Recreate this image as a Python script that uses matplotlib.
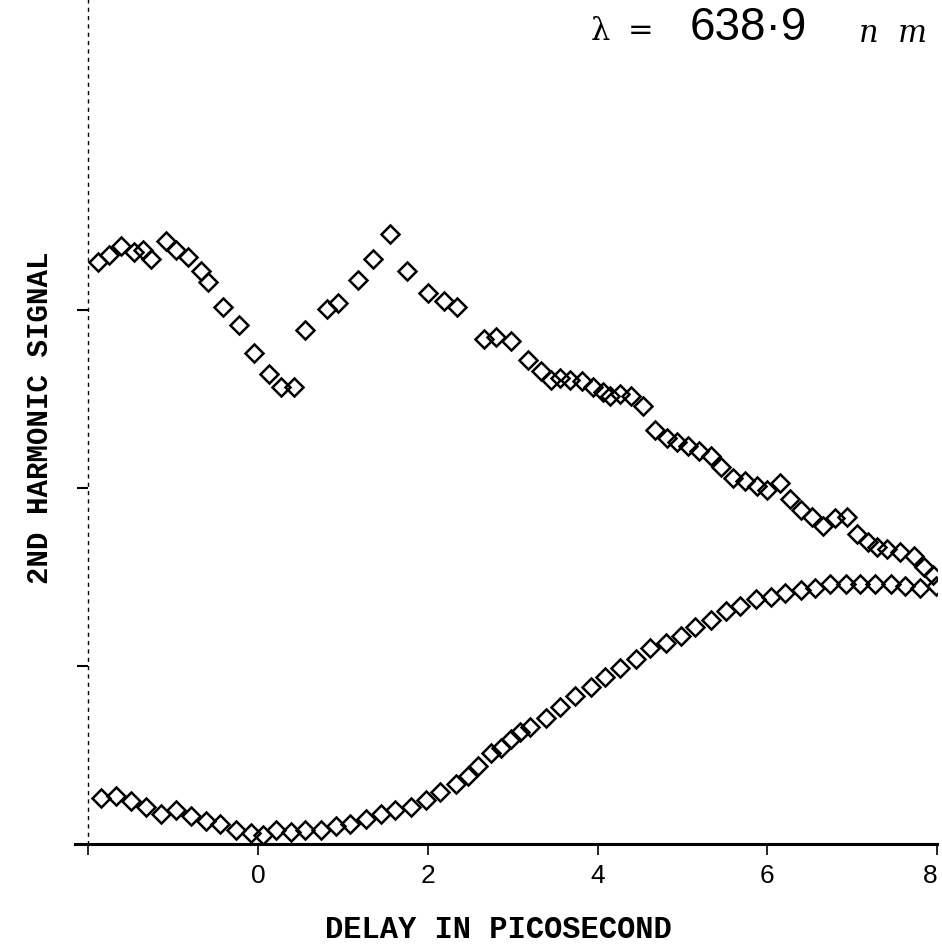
import matplotlib
matplotlib.use("Agg")
import matplotlib.pyplot as plt

# delay (ps) and second-harmonic signal (arb. units)
delay_up = [-1.88, -1.75, -1.61, -1.46, -1.35, -1.26, -1.08, -0.96, -0.82, -0.67,
            -0.59, -0.41, -0.22, -0.05, 0.13, 0.27, 0.42, 0.56, 0.82, 0.94,
            1.18, 1.35, 1.56, 1.76, 2.00, 2.19, 2.35, 2.66, 2.80, 2.98,
            3.18, 3.33, 3.45, 3.56, 3.68, 3.82, 3.95, 4.06, 4.15, 4.27,
            4.39, 4.54, 4.68, 4.82, 4.94, 5.06, 5.19, 5.33, 5.45, 5.60,
            5.74, 5.88, 6.00, 6.15, 6.27, 6.39, 6.53, 6.66, 6.80, 6.94,
            7.06, 7.18, 7.29, 7.41, 7.56, 7.72, 7.84, 7.95]
signal_up = [3.27, 3.31, 3.36, 3.33, 3.34, 3.29, 3.39, 3.34, 3.30, 3.22,
             3.16, 3.02, 2.92, 2.76, 2.64, 2.57, 2.57, 2.89, 3.01, 3.04,
             3.17, 3.29, 3.43, 3.22, 3.10, 3.05, 3.02, 2.84, 2.85, 2.83,
             2.72, 2.66, 2.61, 2.62, 2.61, 2.60, 2.57, 2.54, 2.52, 2.53,
             2.52, 2.46, 2.33, 2.28, 2.26, 2.24, 2.21, 2.18, 2.12, 2.06,
             2.04, 2.01, 1.99, 2.03, 1.94, 1.88, 1.84, 1.79, 1.83, 1.84,
             1.74, 1.70, 1.67, 1.66, 1.64, 1.62, 1.56, 1.51]

delay_lo = [-1.85, -1.67, -1.49, -1.32, -1.14, -0.96, -0.79, -0.61, -0.44, -0.26,
            -0.08, 0.06, 0.21, 0.39, 0.56, 0.74, 0.92, 1.09, 1.27, 1.45,
            1.62, 1.80, 1.98, 2.15, 2.33, 2.47, 2.59, 2.74, 2.86, 2.98,
            3.09, 3.21, 3.39, 3.56, 3.74, 3.92, 4.09, 4.27, 4.45, 4.62,
            4.80, 4.98, 5.15, 5.33, 5.51, 5.68, 5.86, 6.04, 6.21, 6.39,
            6.56, 6.74, 6.92, 7.09, 7.27, 7.45, 7.62, 7.80, 7.98]
signal_lo = [0.26, 0.27, 0.24, 0.21, 0.17, 0.19, 0.16, 0.13, 0.11, 0.08,
             0.06, 0.05, 0.08, 0.07, 0.08, 0.08, 0.10, 0.11, 0.14, 0.17,
             0.19, 0.21, 0.25, 0.29, 0.34, 0.38, 0.44, 0.51, 0.54, 0.59,
             0.63, 0.66, 0.71, 0.77, 0.83, 0.88, 0.94, 0.99, 1.04, 1.10,
             1.13, 1.17, 1.22, 1.26, 1.31, 1.34, 1.38, 1.39, 1.41, 1.43,
             1.44, 1.46, 1.46, 1.46, 1.46, 1.46, 1.45, 1.44, 1.45]

xticks = [-2, 0, 2, 4, 6, 8]
xtick_labels = ['', '0', '2', '4', '6', '8']
yticks = [1, 2, 3]


def main():
    fig = plt.figure(figsize=(9.42, 9.53), dpi=100)
    ax = fig.add_axes([0.0934, 0.1133, 0.9016, 0.8867])

    for x, y in [(delay_up, signal_up), (delay_lo, signal_lo)]:
        ax.plot(x, y, linestyle='none', marker='D', markersize=9.5,
                markerfacecolor='none', markeredgecolor='black',
                markeredgewidth=1.8)

    ax.set_xlim(-2, 8)
    ax.set_ylim(0, 4.75)

    ax.spines['top'].set_visible(False)
    ax.spines['right'].set_visible(False)
    ax.spines['left'].set_linestyle((0, (2, 4)))
    ax.spines['left'].set_linewidth(1.0)
    ax.spines['bottom'].set_linewidth(2.2)
    # short stub of the baseline left of the vertical axis
    ax.plot([-2.15, -2], [0, 0], color='black', lw=2.2, clip_on=False)

    ax.set_xticks(xticks)
    ax.set_xticklabels(xtick_labels, fontsize=19, family='Liberation Sans')
    ax.get_xticklabels()[-1].set_horizontalalignment('right')
    ax.tick_params(axis='x', direction='out', length=8, width=1.2, pad=6)
    ax.set_yticks(yticks)
    ax.set_yticklabels([])
    ax.tick_params(axis='y', direction='out', length=8, width=1.5)

    fig.text(498 / 942, 1 - 930 / 953, 'DELAY IN PICOSECOND',
             family='Liberation Mono', fontweight='bold', fontsize=22,
             ha='center', va='center')
    fig.text(40 / 942, 1 - 418 / 953, '2ND HARMONIC SIGNAL',
             family='Liberation Mono', fontweight='bold', fontsize=21,
             rotation=90, ha='center', va='center')

    # wavelength annotation
    fig.text(600 / 942, 1 - 32 / 953, 'λ', fontsize=22, family='DejaVu Serif',
             ha='center', va='center')
    fig.text(641 / 942, 1 - 30 / 953, '=', fontsize=22, family='DejaVu Sans',
             ha='center', va='center')
    fig.text(748 / 942, 1 - 28 / 953, '638·9', fontsize=33,
             family='Liberation Sans', ha='center', va='center')
    fig.text(893 / 942, 1 - 34 / 953, 'n  m', fontsize=22, family='DejaVu Serif',
             style='italic', ha='center', va='center')

    fig.savefig('out.png', dpi=100)


if __name__ == '__main__':
    main()
